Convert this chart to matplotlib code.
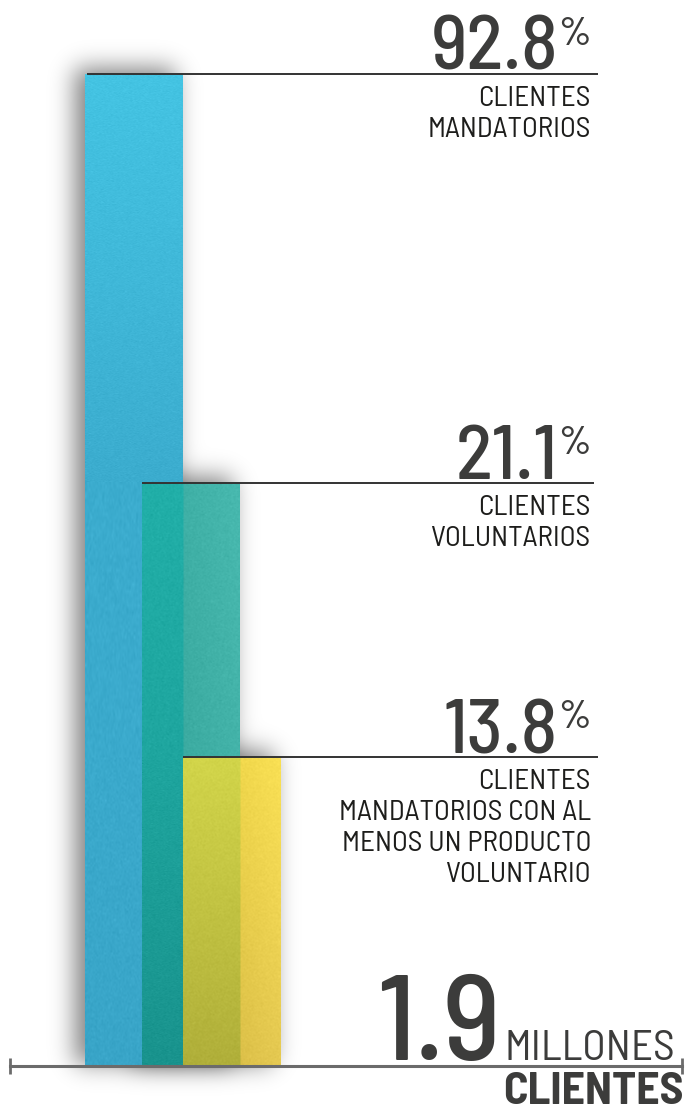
import numpy as np
import matplotlib.pyplot as plt
from matplotlib import font_manager
from matplotlib.colors import to_rgb

shares = [92.8, 21.1, 13.8]
share_labels = ["CLIENTES\nMANDATORIOS",
                "CLIENTES\nVOLUNTARIOS",
                "CLIENTES\nMANDATORIOS CON AL\nMENOS UN PRODUCTO\nVOLUNTARIO"]
total_value = "1.9"
total_unit = "MILLONES"
total_label = "CLIENTES"

W, H = 688, 1108
BASE = 1066                      # pixel row of the bar baseline
bar_left = [85, 142, 183]
bar_width = 98
line_x0 = [87, 142, 183]
line_x1 = [598, 594, 598]
# (top, bottom) colours: first where the bar overlaps the previous one, then where it stands alone
seg_colors = [
    [("#44c4e3", "#39a5c8")],
    [("#21afa8", "#19938d"), ("#3fb0a6", "#33a096")],
    [("#d2d54a", "#b0af3a"), ("#f1d84c", "#dcc049")],
]

# piecewise linear value axis (infographic scale, not proportional)
scale_vals = [0.0] + sorted(shares) + [100.0]
scale_px = [0, 309, 583, 992, BASE]


def fwd(v):
    return np.interp(v, scale_vals, scale_px)


def inv(p):
    return np.interp(p, scale_px, scale_vals)


# narrow DIN-like face if there is one
installed = {f.name for f in font_manager.fontManager.ttflist}
prefs = ['Barlow Semi Condensed', 'Roboto Condensed', 'Barlow Condensed',
         'Archivo Narrow', 'PT Sans Narrow', 'Liberation Sans Narrow']
face = next((p for p in prefs if p in installed), 'DejaVu Sans')
plt.rcParams['font.family'] = [face, 'DejaVu Sans']

fig = plt.figure(figsize=(W / 100, H / 100), dpi=100, facecolor='white')
ax = fig.add_axes([0, (H - BASE) / H, 1, BASE / H])
ax.set_zorder(1)
ax.patch.set_visible(False)
ax.set_yscale('function', functions=(fwd, inv))
ax.set_xlim(0, W)
ax.set_ylim(0, 100)
ax.axis('off')

bars = ax.bar(bar_left, shares, width=bar_width, align='edge',
              color=[c[-1][0] for c in seg_colors], linewidth=0, zorder=2)

rng = np.random.default_rng(3)
for i, rect in enumerate(bars):
    x0, w, v = rect.get_x(), rect.get_width(), rect.get_height()
    nrows, ncols = int(fwd(v)), int(w)
    t = np.linspace(0, 1, nrows)[:, None, None]
    split = 0 if i == 0 else int(bar_left[i - 1] + bar_width - x0)
    img = np.zeros((nrows, ncols, 3))
    bounds = [0, split, ncols] if split else [0, ncols]
    for (c0, c1), (top, bot) in zip(zip(bounds[:-1], bounds[1:]), seg_colors[i]):
        img[:, c0:c1] = np.array(to_rgb(top)) * (1 - t) + np.array(to_rgb(bot)) * t
    # slight brightening toward the right edge of the free part
    if split:
        ramp = np.linspace(0, 0.035, ncols - split)[None, :, None]
        img[:, split:] += ramp
    img += rng.normal(0, 0.012, (nrows, ncols, 1))
    im = ax.imshow(np.clip(img, 0, 1), extent=(x0, x0 + w, 0, v),
                   aspect='auto', interpolation='bilinear', zorder=3)
    im.set_clip_path(rect)


# soft drop shadows behind the bars
def blurred_box(n, lo, hi, sigma):
    box = np.zeros(n)
    box[max(int(lo), 0):min(int(hi), n)] = 1
    k = np.arange(-50, 51)
    g = np.exp(-0.5 * (k / sigma) ** 2)
    return np.convolve(box, g / g.sum(), mode='same')


shade = np.ones((H, W))
for rect in bars:
    bb = rect.get_window_extent()
    px = blurred_box(W, bb.x0 - 10, bb.x1 - 8, 12)
    py = blurred_box(H, H - bb.y1 - 6, H - bb.y0 - 2, 12)
    shade *= 1 - 0.5 * np.outer(py, px)
rgba = np.zeros((H, W, 4))
rgba[..., 3] = 1 - shade
fig.figimage(rgba, 0, 0, zorder=0.5, origin='upper')

# leader lines and labels
for v, lab, xa, xb in zip(shares, share_labels, line_x0, line_x1):
    ax.plot([xa, xb], [v, v], color='#333333', lw=1.4, zorder=4,
            solid_capstyle='butt')
    ax.annotate(f"{v:.1f}", xy=(558, v), xytext=(0, 4),
                textcoords='offset pixels', ha='right', va='baseline',
                fontsize=55, fontweight='medium', color='#3c3c3b')
    ax.annotate("%", xy=(591, v), xytext=(0, 57),
                textcoords='offset pixels', ha='right', va='top',
                fontsize=29, fontweight='medium', color='#3c3c3b')
    for k, row in enumerate(lab.split("\n")):
        ax.annotate(row, xy=(591, v), xytext=(0, -32 - 31 * k),
                    textcoords='offset pixels', ha='right', va='baseline',
                    fontsize=21, color='#1d1d1b')

# baseline with end ticks
ax.plot([10, 682], [0, 0], color='#6b6b6b', lw=2.2, marker='|', ms=12,
        mew=2, clip_on=False, zorder=4)


def fpos(x, y):
    return x / W, 1 - y / H


fig.text(*fpos(501, 1060), total_value, ha='right', va='baseline',
         fontsize=88, fontweight='medium', color='#3c3c3b')
fig.text(*fpos(505, 1060), total_unit, ha='left', va='baseline',
         fontsize=31, color='#3c3c3b')
fig.text(*fpos(684, 1104), total_label, ha='right', va='baseline',
         fontsize=33, fontweight='bold', color='#3c3c3b')

fig.savefig('out.png', dpi=100, facecolor='white')
